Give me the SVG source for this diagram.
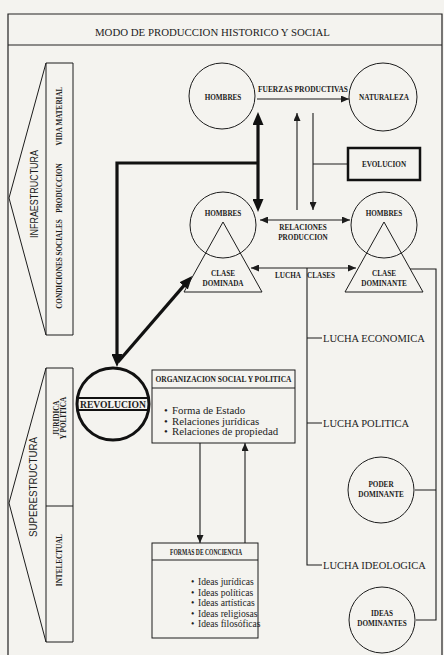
<svg xmlns="http://www.w3.org/2000/svg" width="444" height="655" viewBox="0 0 444 655">
<defs>
<style>
.bg{fill:#f4f3ef}
.fr{fill:none;stroke:#222;stroke-width:1.2}
.ln{fill:none;stroke:#1c1c1c;stroke-width:1.1}
.tk{fill:none;stroke:#111;stroke-width:3.2}
.nd{fill:none;stroke:#1c1c1c;stroke-width:1}
.sm{font-family:"Liberation Serif","Times New Roman",serif;font-weight:bold;font-size:7.2px;fill:#1c1c1c;text-anchor:middle}
.md{font-family:"Liberation Serif","Times New Roman",serif;font-size:10.5px;fill:#1c1c1c}
.bl{font-family:"Liberation Serif","Times New Roman",serif;font-size:10.8px;fill:#1c1c1c}
.fl{font-family:"Liberation Serif","Times New Roman",serif;font-size:9.6px;fill:#1c1c1c}
.ss{font-family:"Liberation Sans",Arial,sans-serif;font-size:10px;fill:#1c1c1c;text-anchor:middle}
</style>
<marker id="a" markerUnits="userSpaceOnUse" viewBox="0 0 8 7" markerWidth="8" markerHeight="7" refX="8" refY="3.5" orient="auto-start-reverse"><path d="M0,0 L8,3.5 L0,7 z" fill="#1c1c1c"/></marker>
<marker id="t" markerUnits="userSpaceOnUse" viewBox="0 0 13 11" markerWidth="13" markerHeight="11" refX="4" refY="5.5" orient="auto-start-reverse"><path d="M0,0 L13,5.5 L0,11 z" fill="#111"/></marker>
</defs>
<rect class="bg" x="0" y="0" width="444" height="655"/>

<g id="frame">
<path class="fr" d="M8,655 V14 H442 V655 M8,45 H442"/>
<text class="md" x="212.5" y="36" text-anchor="middle" font-size="10.9" textLength="235" lengthAdjust="spacingAndGlyphs">MODO DE PRODUCCION HISTORICO Y SOCIAL</text>
</g>

<g id="infraestructura">
<path class="nd" d="M46,63 H73 V335 H46 Z M46,63 L9,198 L46,335"/>
<text class="ss" transform="translate(37.5,194) rotate(-90)" textLength="88" lengthAdjust="spacingAndGlyphs">INFRAESTRUCTURA</text>
<text class="sm" font-size="7" transform="translate(62,264) rotate(-90)">CONDICIONES SOCIALES</text>
<text class="sm" font-size="7" transform="translate(62,188) rotate(-90)">PRODUCCION</text>
<text class="sm" font-size="7" transform="translate(62,116) rotate(-90)">VIDA MATERIAL</text>
</g>

<g id="superestructura">
<path class="nd" d="M46,368 H73 V642 H46 Z M46,506 H73 M46,368 L9,503 L46,642"/>
<text class="ss" transform="translate(36.5,487) rotate(-90)" textLength="100" lengthAdjust="spacingAndGlyphs">SUPERESTRUCTURA</text>
<text class="sm" font-size="6.5" transform="translate(58.5,418) rotate(-90)">JURIDICA</text>
<text class="sm" font-size="6.5" transform="translate(66,418) rotate(-90)">Y POLITICA</text>
<text class="sm" font-size="6.5" transform="translate(61.5,560) rotate(-90)">INTELECTUAL</text>
</g>

<g id="connectors">
<path class="ln" d="M257,99 H349" marker-end="url(#a)"/>
<path class="ln" d="M297,210 V113" marker-end="url(#a)"/>
<path class="ln" d="M313,113 V210" marker-end="url(#a)"/>
<path class="ln" d="M313,164 H348"/>
<path class="ln" d="M260,220 H350" marker-start="url(#a)" marker-end="url(#a)"/>
<path class="ln" d="M251,268 H356" marker-start="url(#a)" marker-end="url(#a)"/>
<path class="ln" d="M307,268 V565 H322 M307,338 H322 M307,423 H322"/>
<path class="ln" d="M410,269 H436 V620 H416 M415,490 H436"/>
<path class="ln" d="M200,443 V543" marker-end="url(#a)"/>
<path class="ln" d="M245,543 V443" marker-end="url(#a)"/>
<path class="tk" d="M258,121 V203" marker-start="url(#t)" marker-end="url(#t)"/>
<path class="tk" d="M258,163 H117 V358" marker-end="url(#t)"/>
<path class="tk" d="M118,362 L186.3,282.9" marker-end="url(#t)"/>
<text class="sm" x="303" y="92" textLength="90" lengthAdjust="spacingAndGlyphs">FUERZAS PRODUCTIVAS</text>
<text class="sm" x="303" y="230">RELACIONES</text>
<text class="sm" x="303" y="240">PRODUCCION</text>
<text class="sm" x="288" y="278">LUCHA</text>
<text class="sm" x="321" y="278">CLASES</text>
<text class="md" x="323" y="341.5">LUCHA ECONOMICA</text>
<text class="md" x="323" y="427">LUCHA POLITICA</text>
<text class="md" x="323" y="569" font-size="10.8">LUCHA IDEOLOGICA</text>
</g>

<g id="hombres-top">
<circle class="nd" cx="222" cy="96" r="33"/>
<text class="sm" x="223" y="99.5">HOMBRES</text>
</g>

<g id="naturaleza">
<circle class="nd" cx="383" cy="97" r="34"/>
<text class="sm" x="384" y="100">NATURALEZA</text>
</g>

<g id="evolucion">
<rect x="348" y="148" width="72" height="32" fill="none" stroke="#111" stroke-width="2.5"/>
<text class="sm" x="384" y="167" font-size="8">EVOLUCION</text>
</g>

<g id="clase-dominada">
<circle class="nd" cx="223" cy="225" r="33"/>
<path class="nd" d="M223,222 L262,292 H184 Z"/>
<text class="sm" x="223" y="215.5">HOMBRES</text>
<text class="sm" x="223" y="276">CLASE</text>
<text class="sm" x="223" y="285.5">DOMINADA</text>
</g>

<g id="clase-dominante">
<circle class="nd" cx="384" cy="225" r="33"/>
<path class="nd" d="M384,222 L423,292 H345 Z"/>
<text class="sm" x="384" y="215.5">HOMBRES</text>
<text class="sm" x="384" y="276">CLASE</text>
<text class="sm" x="384" y="285.5">DOMINANTE</text>
</g>

<g id="revolucion">
<circle cx="113" cy="404" r="36" fill="none" stroke="#111" stroke-width="3"/>
<path d="M77.5,398 H148.5 M77.5,410 H148.5" stroke="#111" stroke-width="2"/>
<text x="113" y="407.8" text-anchor="middle" font-family="'Liberation Serif','Times New Roman',serif" font-weight="bold" font-size="9.6" fill="#1c1c1c" textLength="66" lengthAdjust="spacingAndGlyphs">REVOLUCION</text>
</g>

<g id="organizacion">
<rect class="nd" x="152" y="370" width="143" height="73"/>
<path class="nd" d="M152,388 H295"/>
<text class="sm" x="223.5" y="382" font-size="7" textLength="136" lengthAdjust="spacingAndGlyphs">ORGANIZACION SOCIAL Y POLITICA</text>
<text class="bl" y="414"><tspan x="164">•</tspan><tspan x="172">Forma de Estado</tspan></text>
<text class="bl" y="424.5"><tspan x="164">•</tspan><tspan x="172">Relaciones jurídicas</tspan></text>
<text class="bl" y="435"><tspan x="164">•</tspan><tspan x="172">Relaciones de propiedad</tspan></text>
</g>

<g id="formas-conciencia">
<rect class="nd" x="152" y="543" width="106" height="95"/>
<path class="nd" d="M152,560 H258"/>
<text class="sm" x="206" y="555" font-size="6.5" textLength="72" lengthAdjust="spacingAndGlyphs">FORMAS DE CONCIENCIA</text>
<text class="fl" y="585"><tspan x="191">•</tspan><tspan x="198">Ideas jurídicas</tspan></text>
<text class="fl" y="595.5"><tspan x="191">•</tspan><tspan x="198">Ideas políticas</tspan></text>
<text class="fl" y="606"><tspan x="191">•</tspan><tspan x="198">Ideas artísticas</tspan></text>
<text class="fl" y="616.5"><tspan x="191">•</tspan><tspan x="198">Ideas religiosas</tspan></text>
<text class="fl" y="627"><tspan x="191">•</tspan><tspan x="198">Ideas filosóficas</tspan></text>
</g>

<g id="poder-dominante">
<circle class="nd" cx="381" cy="490" r="33"/>
<text class="sm" x="381" y="487" font-size="6.5">PODER</text>
<text class="sm" x="381" y="497" font-size="6.5">DOMINANTE</text>
</g>

<g id="ideas-dominantes">
<circle class="nd" cx="382" cy="620" r="33"/>
<text class="sm" x="382" y="616" font-size="6.5">IDEAS</text>
<text class="sm" x="382" y="626" font-size="6.5">DOMINANTES</text>
</g>
</svg>
